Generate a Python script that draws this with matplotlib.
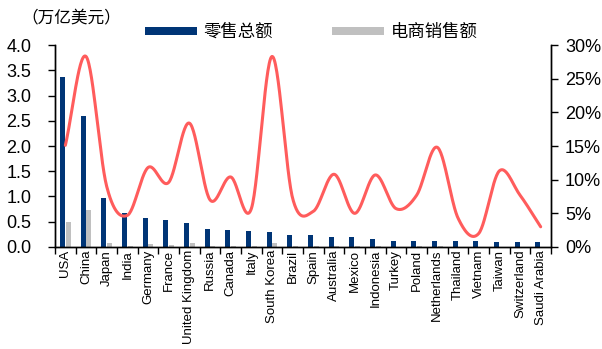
import numpy as np
import matplotlib.pyplot as plt

countries = ["USA", "China", "Japan", "India", "Germany", "France", "United Kingdom",
             "Russia", "Canada", "Italy", "South Korea", "Brazil", "Spain", "Australia",
             "Mexico", "Indonesia", "Turkey", "Poland", "Netherlands", "Thailand",
             "Vietnam", "Taiwan", "Switzerland", "Saudi Arabia"]
# 零售总额 (万亿美元)
retail = [3.36, 2.59, 0.97, 0.67, 0.57, 0.53, 0.47, 0.36, 0.33, 0.32, 0.29, 0.24,
          0.23, 0.20, 0.20, 0.16, 0.12, 0.12, 0.11, 0.11, 0.11, 0.10, 0.10, 0.10]
# 电商销售额 (万亿美元)
ecom = [0.50, 0.73, 0.08, 0.02, 0.06, 0.04, 0.08, 0.01, 0.02, 0.01, 0.08, 0.01,
        0.01, 0.01, 0.01, 0.01, 0.00, 0.01, 0.01, 0.00, 0.00, 0.00, 0.00, 0.00]
# right axis series (%)
share = [15.1, 28.3, 9.0, 4.7, 11.8, 9.6, 18.4, 7.0, 10.4, 5.7, 28.3, 7.2,
         5.3, 10.8, 5.0, 10.7, 5.7, 7.7, 14.8, 4.3, 2.0, 11.3, 7.7, 3.0]

NAVY = "#003576"
GRAY = "#C0C0C0"
RED = "#FF5C5C"
CJK = ["Noto Sans CJK SC", "DejaVu Sans"]

plt.rcParams["font.family"] = ["Liberation Sans", "DejaVu Sans"]

fig = plt.figure(figsize=(6.02, 3.49), dpi=100)
ax = fig.add_axes([0.0914, 0.2923, 0.8239, 0.5787])
ax2 = ax.twinx()

x = np.arange(len(countries))
w = 0.24
ax.bar(x - 0.135, retail, width=w, color=NAVY, label="零售总额", zorder=2)
ax.bar(x + 0.13, ecom, width=w, color=GRAY, label="电商销售额", zorder=2)


# smoothed line (Excel-style, Catmull-Rom through the data points)
def smooth(xs, ys, n=30):
    xs = np.asarray(xs, float)
    ys = np.asarray(ys, float)
    px = np.concatenate([[2 * xs[0] - xs[1]], xs, [2 * xs[-1] - xs[-2]]])
    py = np.concatenate([[2 * ys[0] - ys[1]], ys, [2 * ys[-1] - ys[-2]]])
    ox, oy = [], []
    for i in range(1, len(px) - 2):
        t = np.linspace(0, 1, n, endpoint=False)
        for p, out in ((px, ox), (py, oy)):
            p0, p1, p2, p3 = p[i - 1], p[i], p[i + 1], p[i + 2]
            out.extend(0.5 * (2 * p1 + (-p0 + p2) * t
                              + (2 * p0 - 5 * p1 + 4 * p2 - p3) * t ** 2
                              + (-p0 + 3 * p1 - 3 * p2 + p3) * t ** 3))
    ox.append(xs[-1]); oy.append(ys[-1])
    return np.array(ox), np.array(oy)


sx, sy = smooth(x, share)
ax2.plot(sx, sy, color=RED, lw=2.2, solid_capstyle="round", zorder=3)

ax.set_xlim(-0.5, len(countries) - 0.5)
ax.set_ylim(0, 4.0)
ax.set_yticks(np.arange(0, 4.01, 0.5))
ax.set_yticklabels([f"{v:.1f}" for v in np.arange(0, 4.01, 0.5)], fontsize=13)
ax2.set_ylim(0, 30)
ax2.set_yticks(range(0, 31, 5))
ax2.set_yticklabels([f"{v}%" for v in range(0, 31, 5)], fontsize=13)

ax.set_xticks(x)
ax.set_xticklabels(countries, rotation=90, fontsize=9.5)
ax.set_xticks(np.arange(-0.5, len(countries), 1), minor=True)
ax.tick_params(axis="x", which="major", length=0, pad=2)
ax.tick_params(axis="x", which="minor", length=5, direction="out", width=1)
ax.tick_params(axis="y", length=5, width=1, direction="out", pad=12)
ax2.tick_params(axis="y", length=5, width=1, direction="out", pad=5)

for a in (ax, ax2):
    a.spines["top"].set_visible(False)
    for s in ("left", "right", "bottom"):
        a.spines[s].set_linewidth(1.0)
        a.spines[s].set_color("black")

fig.text(0.036, 0.945, "（万亿美元）", fontsize=12, family=CJK, va="center")
leg = ax.legend(loc="lower left", bbox_to_anchor=(0.167, 0.985), ncol=2, frameon=False,
                prop={"family": CJK, "size": 12.5}, handlelength=3.0, handleheight=0.4,
                columnspacing=3.45, handletextpad=0.35, borderaxespad=0)

fig.savefig("out.png", dpi=100)
